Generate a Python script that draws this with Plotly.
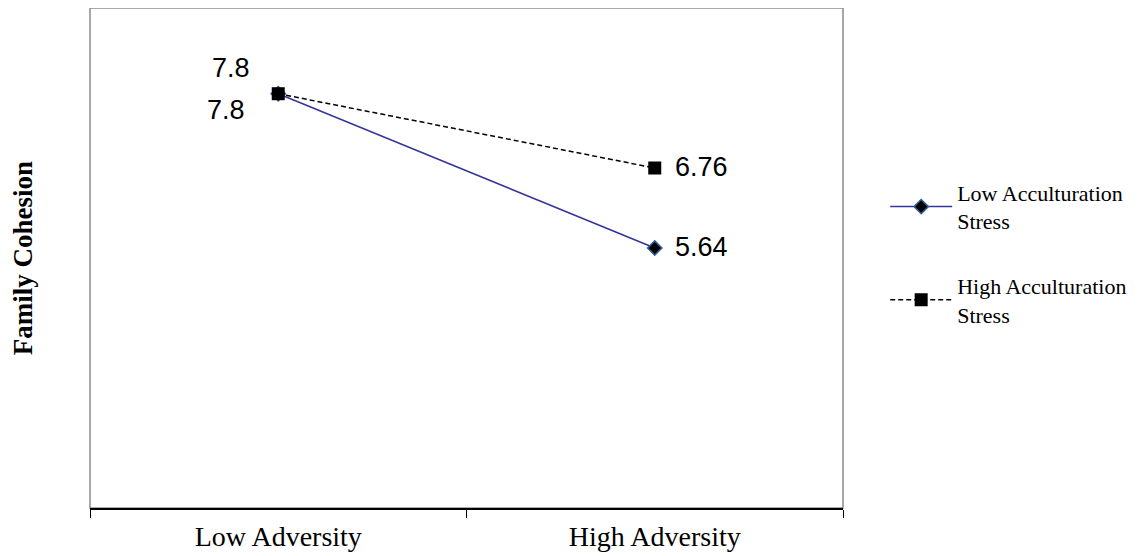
import plotly.graph_objects as go

categories = ["Low Adversity", "High Adversity"]
low_stress = [7.8, 5.64]
high_stress = [7.8, 6.76]
series_names = ["Low Acculturation<br>Stress", "High Acculturation<br>Stress"]

fig = go.Figure()
fig.add_trace(go.Scatter(
    x=categories, y=low_stress, mode="lines+markers", name=series_names[0],
    line=dict(color="#34349a", width=1.5),
    marker=dict(symbol="diamond", size=11, color="black", line=dict(color="#2f5f9a", width=1.5)),
    legendgroup="a",
))
fig.add_trace(go.Scatter(
    x=categories, y=high_stress, mode="lines+markers", name=series_names[1],
    line=dict(color="black", width=1.5, dash="5px,3px"),
    marker=dict(symbol="square", size=13, color="black"),
    legendgroup="b",
))

lab_font = dict(family="Liberation Sans, Arial", size=27, color="black")
# data labels
fig.add_annotation(x=categories[0], y=high_stress[0], text=f"{high_stress[0]:g}", showarrow=False,
                   xshift=-47, yshift=26, font=lab_font)
fig.add_annotation(x=categories[0], y=low_stress[0], text=f"{low_stress[0]:g}", showarrow=False,
                   xshift=-52, yshift=-16, font=lab_font)
fig.add_annotation(x=categories[1], y=high_stress[1], text=f"{high_stress[1]:g}", showarrow=False,
                   xanchor="left", xshift=18, yshift=1, font=lab_font)
fig.add_annotation(x=categories[1], y=low_stress[1], text=f"{low_stress[1]:g}", showarrow=False,
                   xanchor="left", xshift=18, yshift=1, font=lab_font)

# gray frame
fig.add_shape(type="rect", xref="paper", yref="paper", x0=0, x1=1, y0=0, y1=1,
              line=dict(color="#8c8c8c", width=1.5), layer="below")

fig.update_xaxes(
    range=[-0.5, 1.5], tickson="boundaries", ticks="outside", ticklen=8, tickcolor="black",
    showline=True, linecolor="black", linewidth=1.5, showgrid=False, zeroline=False,
    ticklabelstandoff=3,
    tickfont=dict(family="Liberation Serif, Times New Roman", size=28, color="black"),
)
fig.update_yaxes(
    range=[2, 9], showticklabels=False, showgrid=False, zeroline=False, ticks="",
    title=dict(text="<b>Family Cohesion</b>", standoff=50,
               font=dict(family="Liberation Serif, Times New Roman", size=27, color="black")),
)

fig.update_layout(
    width=1138, height=556,
    margin=dict(l=82, r=303, t=0, b=56),
    plot_bgcolor="white", paper_bgcolor="white",
    legend=dict(x=1.056, y=0.673, xanchor="left", yanchor="top", itemwidth=62,
                font=dict(family="Liberation Serif, Times New Roman", size=22, color="black"),
                traceorder="grouped", tracegroupgap=33, bgcolor="rgba(0,0,0,0)"),
)

fig.write_html("out.html")
